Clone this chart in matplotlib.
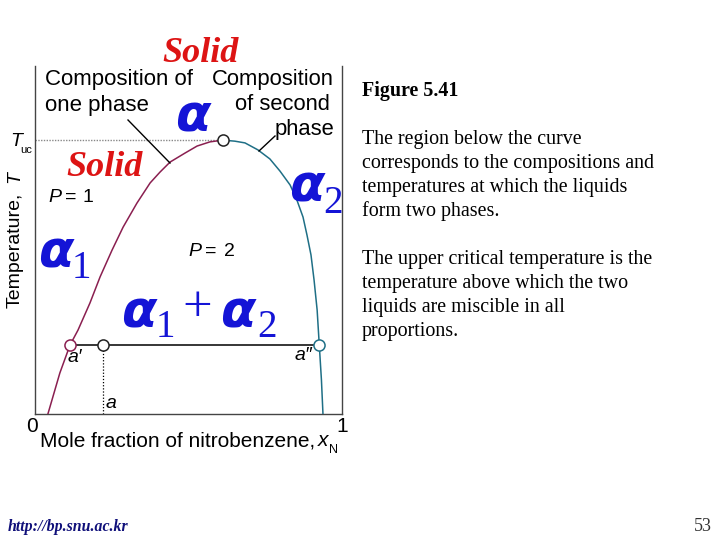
import matplotlib
matplotlib.use("Agg")
import matplotlib.pyplot as plt

# ---- data (mole fraction x, reduced temperature T) ----
left_x = [0.042, 0.081, 0.114, 0.140, 0.179, 0.212, 0.251, 0.287, 0.332, 0.375, 0.407,
          0.440, 0.489, 0.528, 0.570, 0.612]
left_T = [0.000, 0.118, 0.198, 0.241, 0.319, 0.394, 0.471, 0.537, 0.606, 0.664, 0.695,
          0.724, 0.750, 0.770, 0.782, 0.787]
right_x = [0.612, 0.651, 0.684, 0.726, 0.765, 0.798, 0.831, 0.853, 0.873, 0.886, 0.899,
           0.909, 0.919, 0.926, 0.933, 0.938]
right_T = [0.787, 0.784, 0.779, 0.759, 0.733, 0.698, 0.658, 0.615, 0.566, 0.514, 0.457,
           0.385, 0.299, 0.198, 0.098, 0.000]
T_uc = 0.787
x_crit = 0.612
tie_T = 0.198
tie_x = [0.114, 0.221, 0.926]   # a', a, a''
tie_labels = ["a\u2032", "a", "a\u2033"]

W, H = 720, 540
fig = plt.figure(figsize=(7.2, 5.4), dpi=100)
fig.patch.set_facecolor("white")

def fx(px):
    return px / W

def fy(py):
    return 1 - py / H

ax = fig.add_axes([fx(35), fy(414), (342 - 35) / W, (414 - 66) / H])
ax.set_xlim(0, 1)
ax.set_ylim(0, 1)
ax.set_xticks([])
ax.set_yticks([])
ax.spines["top"].set_visible(False)
for s in ["left", "right", "bottom"]:
    ax.spines[s].set_color("#444444")
    ax.spines[s].set_linewidth(1.0)

maroon = "#8a1f50"
teal = "#1f6f86"
ax.plot(left_x, left_T, color=maroon, lw=1.1, zorder=3, solid_joinstyle="round")
ax.plot(right_x, right_T, color=teal, lw=1.1, zorder=3, solid_joinstyle="round")

# T_uc dotted line
ax.plot([0, x_crit], [T_uc, T_uc], color="#888888", lw=1.0, ls=(0, (1, 1)), zorder=2)
# tie line
ax.plot([tie_x[0], tie_x[2]], [tie_T, tie_T], color="black", lw=1.1, zorder=3)
# vertical dotted at a
ax.plot([tie_x[1], tie_x[1]], [0, tie_T], color="black", lw=0.9, ls=(0, (1, 1.5)), zorder=2)

mk = dict(marker="o", ms=8, mfc="white", mew=1.1, zorder=5, ls="none")
ax.plot([x_crit], [T_uc], mec="#222222", **mk)
ax.plot([tie_x[0]], [tie_T], mec=maroon, **mk)
ax.plot([tie_x[1]], [tie_T], mec="#222222", **mk)
ax.plot([tie_x[2]], [tie_T], mec=teal, **mk)

sans = "Liberation Sans"
serif = "Liberation Serif"
blue = "#1414d6"
red = "#dd1414"

# leader lines (figure pixel coords)
def fline(x0, y0, x1, y1):
    fig.add_artist(plt.Line2D([fx(x0), fx(x1)], [fy(y0), fy(y1)], color="black", lw=1.0,
                              transform=fig.transFigure))

fline(128, 120, 170, 163)
fline(275, 136, 259, 151)

def t(px, py, s, **kw):
    fig.text(fx(px), fy(py), s, **kw)

# annotations in diagram
t(45, 79, "Composition of", fontsize=16, family=sans, va="center", ha="left")
t(45, 105, "one phase", fontsize=16, family=sans, va="center", ha="left")
t(334, 79, "Composition", fontsize=15.8, family=sans, va="center", ha="right")
t(330, 105, "of second", fontsize=15.8, family=sans, va="center", ha="right")
t(334, 130, "phase", fontsize=15.8, family=sans, va="center", ha="right")

t(201, 53, "Solid", fontsize=26, family=serif, style="italic", weight="bold", color=red,
  va="center", ha="center")
t(105, 167, "Solid", fontsize=26, family=serif, style="italic", weight="bold", color=red,
  va="center", ha="center")

pk = dict(fontsize=14, family=sans, va="center", ha="left")
t(48, 197, "P", style="italic", **pk)
t(65, 197, "=", **pk)
t(83, 197, "1", **pk)
t(188, 251, "P", style="italic", **pk)
t(205, 251, "=", **pk)
t(224, 251, "2", **pk)

# greek labels
galpha = dict(family="DejaVu Sans", style="italic", weight="bold", color=blue, fontsize=37,
              va="baseline", ha="left")
gsub = dict(family=serif, color=blue, fontsize=28, va="baseline", ha="left")
t(175, 132, "\u03b1", **galpha)
t(289, 202, "\u03b1", **galpha)
t(323, 213, "2", **gsub)
t(38, 267, "\u03b1", **galpha)
t(72, 278, "1", **gsub)
t(121, 327, "\u03b1", **galpha)
t(156, 337, "1", **gsub)
t(182, 321, "+", family=serif, color=blue, fontsize=38, va="baseline", ha="left")
t(220, 327, "\u03b1", **galpha)
t(257, 337, "2", **gsub)

# tie-line labels
t(68, 357, tie_labels[0], fontsize=14, family=sans, style="italic", va="center", ha="left")
t(106, 403, tie_labels[1], fontsize=14, family=sans, style="italic", va="center", ha="left")
t(295, 356, tie_labels[2], fontsize=14, family=sans, style="italic", va="center", ha="left")

# axes labels
t(10, 141, "T", fontsize=14, family=sans, style="italic", va="center", ha="left")
t(20, 150, "uc", fontsize=8, family=sans, va="center", ha="left")
t(15, 250, "Temperature,", fontsize=14, family=sans, rotation=90, va="center", ha="center")
t(15, 177, "T", fontsize=14, family=sans, style="italic", rotation=90, va="center", ha="center")
t(32, 426, "0", fontsize=15, family=sans, va="center", ha="center")
t(342, 426, "1", fontsize=15, family=sans, va="center", ha="center")
t(40, 441, "Mole fraction of nitrobenzene,", fontsize=15, family=sans, va="center", ha="left")
t(318, 441, "x", fontsize=15, family=sans, style="italic", va="center", ha="left")
t(329, 450, "N", fontsize=9, family=sans, va="center", ha="left")

# side text
t(362, 96, "Figure 5.41", fontsize=14.4, family=serif, weight="bold", va="baseline", ha="left")
para1 = ["The region below the curve",
         "corresponds to the compositions and",
         "temperatures at which the liquids",
         "form two phases."]
para2 = ["The upper critical temperature is the",
         "temperature above which the two",
         "liquids are miscible in all",
         "proportions."]
for i, line in enumerate(para1):
    t(362, 144 + 24 * i, line, fontsize=14.4, family=serif, va="baseline", ha="left")
for i, line in enumerate(para2):
    t(362, 264 + 24 * i, line, fontsize=14.4, family=serif, va="baseline", ha="left")

t(8, 531, "http://bp.snu.ac.kr", fontsize=11.4, family=serif, style="italic", weight="bold",
  color="#10107a", va="baseline", ha="left")
t(712, 531, "53", fontsize=13, family=serif, color="#333333", va="baseline", ha="right")

fig.savefig("out.png", dpi=100, facecolor="white")
